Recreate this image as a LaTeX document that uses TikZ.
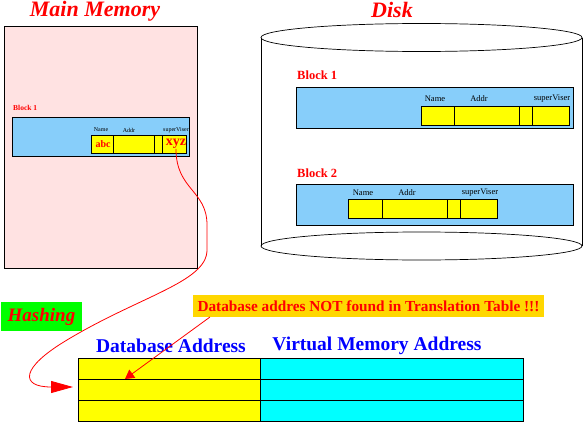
\documentclass[tikz,border=0pt]{standalone}
\usepackage{fontspec}
\setmainfont{Liberation Serif}
\usetikzlibrary{arrows.meta}
\definecolor{mempink}{HTML}{FFE2E2}
\definecolor{blkblue}{HTML}{87CEFA}
\definecolor{notegold}{HTML}{FFD700}
\definecolor{purecyan}{HTML}{00FFFF}
\definecolor{puregreen}{HTML}{00FF00}
\definecolor{pureyellow}{HTML}{FFFF00}
\newcommand\myrect[6]{\node[#1, minimum width=#4pt, minimum height=#5pt] (#6) at (#2,#3) {};}
\begin{document}
\begin{tikzpicture}[x=1pt,y=-1pt,
  box/.style={draw, line width=0.8pt, inner sep=0pt, outer sep=0pt, anchor=north west},
  blk/.style={box, fill=blkblue},
  fld/.style={box, fill=pureyellow},
  plain/.style={box, draw=none},
  title/.style={inner sep=0pt, text=red, font=\fontsize{22}{24}\selectfont\bfseries\itshape},
  blabel/.style={inner sep=0pt, anchor=west, text=red, font=\fontsize{12.5}{14}\selectfont\bfseries},
  hdr/.style={inner sep=0pt, font=\fontsize{8.5}{9}\selectfont},
  shdr/.style={inner sep=0pt, font=\fontsize{6}{7}\selectfont},
  colhdr/.style={inner sep=0pt, text=blue, font=\fontsize{19.5}{21}\selectfont\bfseries},
  redline/.style={draw=red, line width=0.8pt}
]
\useasboundingbox (0,0) rectangle (584,423);

% ---------- Main memory ----------
\node[title] (mmtitle) at (95,11) {Main Memory};
\myrect{box, fill=mempink}{4}{26}{193}{242}{mm}
\node[inner sep=0pt, anchor=west, text=red, font=\fontsize{7.5}{8}\selectfont\bfseries] (mmb1) at (13,108) {Block 1};
\myrect{blk}{12}{117}{177}{39}{mmblk}
\myrect{fld}{91}{135}{22}{18}{mf1}
\myrect{fld}{113}{135}{41}{18}{mf2}
\myrect{fld}{154}{135}{8}{18}{mf3}
\myrect{fld}{162}{135}{24}{18}{mf4}
\node[shdr] (mh1) at (101,130) {Name};
\node[shdr] (mh2) at (129,130) {Addr};
\node[shdr] (mh3) at (176,130) {superViser};
\node[inner sep=0pt, text=red, font=\fontsize{10}{11}\selectfont\bfseries] (abc) at (103,144) {abc};
\node[inner sep=0pt, text=red, font=\fontsize{14}{15}\selectfont\bfseries] (xyz) at (176,144) {xyz};

% ---------- Disk ----------
\node[title] (disktitle) at (392,10) {Disk};
\draw[line width=0.7pt] (261,37.5) -- (261,246) (582,37.5) -- (582,246);
\draw[line width=0.7pt] (421.5,37.5) ellipse [x radius=160.5pt, y radius=14pt];
\draw[line width=0.7pt] (421.5,246) ellipse [x radius=160.5pt, y radius=14pt];

\node[blabel] (db1) at (297,75) {Block 1};
\myrect{blk}{296}{87}{277}{41}{dblk1}
\myrect{fld}{421}{106}{33}{19}{d1f1}
\myrect{fld}{454}{106}{65}{19}{d1f2}
\myrect{fld}{519}{106}{13}{19}{d1f3}
\myrect{fld}{532}{106}{37}{19}{d1f4}
\node[hdr] (d1h1) at (435,99) {Name};
\node[hdr] (d1h2) at (479,99) {Addr};
\node[hdr] (d1h3) at (552,99) {superViser};

\node[blabel] (db2) at (297,173) {Block 2};
\myrect{blk}{296}{184}{277}{41}{dblk2}
\myrect{fld}{348}{199}{34}{19}{d2f1}
\myrect{fld}{382}{199}{65}{19}{d2f2}
\myrect{fld}{447}{199}{13}{19}{d2f3}
\myrect{fld}{460}{199}{37}{19}{d2f4}
\node[hdr] (d2h1) at (363,193) {Name};
\node[hdr] (d2h2) at (407,193) {Addr};
\node[hdr] (d2h3) at (480,193) {superViser};

% ---------- Hashing and note ----------
\myrect{plain, fill=puregreen}{1}{302}{81}{29}{hashbox}
\node[inner sep=0pt, text=red, font=\fontsize{19}{20}\selectfont\bfseries\itshape] (hash) at (hashbox.center) {Hashing};
\myrect{plain, fill=notegold}{193}{295}{351}{22}{note}
\node[inner sep=0pt, text=red, font=\fontsize{15.3}{16}\selectfont\bfseries] (notetext) at (note.center) {Database addres NOT found in Translation Table !!!};

% ---------- Translation table ----------
\node[colhdr] (dbaddr) at (171,346) {Database Address};
\node[colhdr] (vmaddr) at (377,346) {Virtual Memory Address};
\myrect{fld}{78}{358}{182}{21}{r1}
\myrect{fld}{78}{379}{182}{21}{r2}
\myrect{fld}{78}{400}{182}{21}{r3}
\myrect{box, fill=purecyan}{260}{358}{263}{21}{v1}
\myrect{box, fill=purecyan}{260}{379}{263}{21}{v2}
\myrect{box, fill=purecyan}{260}{400}{263}{21}{v3}

% ---------- Connectors ----------
\coordinate (hashtip) at ([xshift=-5pt, yshift=2.5pt]r2.west);
\path[redline, -{Triangle[length=22pt, width=12pt]}]
  (xyz.south) .. controls (176,190) and (207,190) .. (207,225) -- (207,250)
  .. controls (207,282) and (140,296) .. (67,340)
  .. controls (20,368) and (20,387) .. (hashtip);
\coordinate (notefoot) at ([xshift=17pt]note.south west);
\coordinate (notetip) at ([xshift=47pt]r1.south west);
\path[redline, -{Triangle[length=9pt, width=10pt]}] (notefoot) -- (notetip);
\end{tikzpicture}
\end{document}
